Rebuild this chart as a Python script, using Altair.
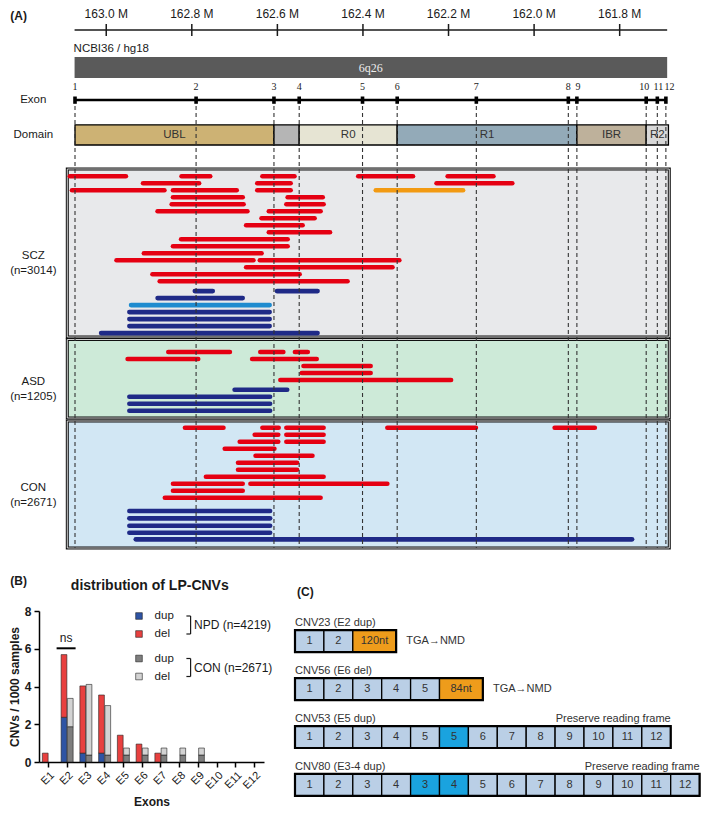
import altair as alt
import pandas as pd

# ======================= DATA =======================
# ---- (A) PARK2 locus, NCBI36/hg18, positions in Mb ----
AXIS_TICKS = [163.0, 162.8, 162.6, 162.4, 162.2, 162.0, 161.8]
VIEW_MB = [163.091, 161.684]
GENE_MB = [163.074, 161.689]
ASSEMBLY = "NCBI36 / hg18"
BAND = "6q26"

EXON_LABELS = ["1", "2", "3", "4", "5", "6", "7", "8", "9", "10", "11", "12"]
EXON_MB = [163.073, 162.790, 162.608, 162.549, 162.401, 162.320,
           162.135, 161.920, 161.900, 161.738, 161.712, 161.692]

DOMAIN_LABELS = ["UBL", "", "R0", "R1", "IBR", "R2"]
DOMAIN_START = [163.073, 162.608, 162.549, 162.320, 161.900, 161.738]
DOMAIN_END = [162.608, 162.549, 162.320, 161.900, 161.738, 161.686]

COHORTS = ["SCZ", "ASD", "CON"]
COHORT_N = [3014, 1205, 2671]

# CNVs: (stack row, type, start Mb, end Mb)
SCZ_CNV = [
    (0, "del", 163.085, 162.954), (0, "del", 162.824, 162.757), (0, "del", 162.635, 162.560),
    (0, "del", 162.411, 162.283), (0, "del", 162.202, 162.095),
    (1, "del", 162.914, 162.783), (1, "del", 162.647, 162.569), (1, "del", 162.228, 162.051),
    (2, "del", 163.080, 162.864), (2, "del", 162.844, 162.695), (2, "del", 162.647, 162.569),
    (2, "del*", 162.370, 162.166),
    (3, "del", 162.844, 162.681), (3, "del", 162.576, 162.494),
    (4, "del", 162.847, 162.679), (4, "del", 162.579, 162.492),
    (5, "del", 162.880, 162.670), (5, "del", 162.620, 162.499),
    (6, "del", 162.637, 162.513),
    (7, "del", 162.673, 162.541),
    (8, "del", 162.620, 162.477),
    (9, "del", 162.825, 162.576),
    (10, "del", 162.844, 162.576),
    (11, "del", 162.912, 162.637),
    (12, "del", 162.976, 162.656), (12, "del", 162.641, 162.315),
    (13, "del", 162.673, 162.331),
    (14, "del", 162.892, 162.548),
    (15, "del", 162.875, 162.436),
    (16.4, "dup", 162.793, 162.751), (16.4, "dup", 162.601, 162.506),
    (17.4, "dup", 162.880, 162.681),
    (18.4, "dup*", 162.942, 162.618),
    (19.4, "dup", 162.946, 162.618),
    (20.4, "dup", 162.946, 162.618),
    (21.4, "dup", 162.946, 162.618),
    (22.4, "dup", 163.012, 162.506),
]
ASD_CNV = [
    (0, "del", 162.855, 162.711), (0, "del", 162.640, 162.586), (0, "del", 162.559, 162.529),
    (1, "del", 162.950, 162.785), (1, "del", 162.659, 162.508),
    (2, "del", 162.539, 162.382),
    (3, "del", 162.543, 162.382),
    (4, "del", 162.593, 162.194),
    (5.4, "dup", 162.700, 162.577),
    (6.4, "dup", 162.946, 162.617),
    (7.4, "dup", 162.946, 162.617),
    (8.4, "dup", 162.946, 162.617),
]
CON_CNV = [
    (0, "del", 162.816, 162.726), (0, "del", 162.635, 162.597), (0, "del", 162.579, 162.492),
    (0, "del", 162.343, 162.136), (0, "del", 161.952, 161.858),
    (1, "del", 162.653, 162.598), (1, "del", 162.579, 162.492),
    (2, "del", 162.688, 162.598), (2, "del", 162.579, 162.492),
    (3, "del", 162.723, 162.607),
    (4, "del", 162.651, 162.518),
    (5, "del", 162.692, 162.554),
    (6, "del", 162.692, 162.554),
    (7, "del", 162.767, 162.492),
    (8, "del", 162.844, 162.681), (8, "del", 162.663, 162.343),
    (9, "del", 162.844, 162.681),
    (10, "del", 162.863, 162.499),
    (11.9, "dup", 162.946, 162.617),
    (12.95, "dup", 162.946, 162.617),
    (14.0, "dup", 162.946, 162.617),
    (15.0, "dup", 162.946, 162.617),
    (15.95, "dup", 162.931, 161.771),
]

# ---- (B) distribution of LP-CNVs (CNVs / 1000 samples) ----
EXON_CATS = ["E1", "E2", "E3", "E4", "E5", "E6", "E7", "E8", "E9", "E10", "E11", "E12"]
NPD_DUP = [0, 2.37, 0.47, 0.47, 0, 0, 0, 0, 0, 0, 0, 0]
NPD_DEL = [0.47, 3.32, 3.56, 3.08, 1.42, 0.95, 0.47, 0, 0, 0, 0, 0]
CON_DUP = [0, 1.87, 0.37, 0.37, 0.37, 0.37, 0.37, 0.37, 0.37, 0, 0, 0]
CON_DEL = [0, 1.50, 3.74, 2.62, 0.37, 0.37, 0.37, 0.37, 0.37, 0, 0, 0]
NPD_LABEL = "NPD (n=4219)"
CON_LABEL = "CON (n=2671)"

# ---- (C) transcript consequences ----
C_TITLES = ["CNV23 (E2 dup)", "CNV56 (E6 del)", "CNV53 (E5 dup)", "CNV80 (E3-4 dup)"]
C_BOXES = [
    ["1", "2", "120nt"],
    ["1", "2", "3", "4", "5", "84nt"],
    ["1", "2", "3", "4", "5", "5", "6", "7", "8", "9", "10", "11", "12"],
    ["1", "2", "3", "4", "3", "4", "5", "6", "7", "8", "9", "10", "11", "12"],
]
C_KINDS = [
    ["exon", "exon", "insert"],
    ["exon", "exon", "exon", "exon", "exon", "insert"],
    ["exon"] * 5 + ["dup"] + ["exon"] * 7,
    ["exon"] * 4 + ["dup", "dup"] + ["exon"] * 8,
]
C_NOTES = ["TGA\u2192NMD", "TGA\u2192NMD", "Preserve reading frame", "Preserve reading frame"]

# ======================= STYLE / LAYOUT =======================
FONT = "Liberation Sans"
SERIF = "Liberation Serif"
INK = "#1a1a1a"
CNV_TYPES = ["del", "dup", "del*", "dup*"]
CNV_COLORS = ["#E50012", "#1F2A87", "#F29A12", "#1E8BCF"]
DOMAIN_COLORS = ["#CDB274", "#B5B5B5", "#E6E4D3", "#93AAB8", "#BEB19B", "#D8D8D8"]
PANEL_Y = {"SCZ": (163, 331), "ASD": (333.5, 412), "CON": (415, 542)}
PANEL_FILL = {"SCZ": "#E8E9EB", "ASD": "#CDEAD8", "CON": "#D2E7F4"}
ROW_BASE = {"SCZ": 170.3, "ASD": 346.0, "CON": 421.7}
ROW_STEP = 7
EXON_LABEL_DX = [0, 0, 0, 0, 0, 0, 0, 0, 1, -2, 1, 3.5]   # px nudges for crowded labels
PX_PER_MB = 428.1
X0 = 28.3            # left gutter inside panel A (room for row labels)
TRACK_W = 602
A_W, A_H = 632, 519

xs = alt.Scale(domain=VIEW_MB, range=[X0, X0 + TRACK_W], nice=False, zero=False)
ys = alt.Scale(domain=[543, 24], nice=False, zero=False)


def AX(f):
    return alt.X(f"{f}:Q", scale=xs, axis=None)


def AY(f):
    return alt.Y(f"{f}:Q", scale=ys, axis=None)


# ---------- panel A ----------
panel_df = pd.DataFrame({
    "x": [VIEW_MB[0]] * 3, "x2": [VIEW_MB[1]] * 3,
    "y": [PANEL_Y[c][0] for c in COHORTS], "y2": [PANEL_Y[c][1] for c in COHORTS],
    "fill": [PANEL_FILL[c] for c in COHORTS],
})
panel_bg = alt.Chart(panel_df).mark_rect(stroke="#111111", strokeWidth=3).encode(
    x=AX("x"), x2="x2", y=AY("y"), y2="y2", fill=alt.Fill("fill:N", scale=None))
panel_line = alt.Chart(panel_df).mark_rect(fillOpacity=0, stroke="white", strokeWidth=0.8).encode(
    x=AX("x"), x2="x2", y=AY("y"), y2="y2")

band_df = pd.DataFrame({"x": [GENE_MB[0]], "x2": [GENE_MB[1]], "y": [51], "y2": [72],
                        "xm": [sum(GENE_MB) / 2], "ym": [61.5], "t": [BAND],
                        "ax": [GENE_MB[0]], "ay": [43], "at": [ASSEMBLY]})
band = alt.Chart(band_df).mark_rect(fill="#5A5A5A").encode(x=AX("x"), x2="x2", y=AY("y"), y2="y2")
band_txt = alt.Chart(band_df).mark_text(font=SERIF, fontSize=12, color="#EDEDED").encode(
    x=AX("xm"), y=AY("ym"), text="t:N")
asm_txt = alt.Chart(band_df).mark_text(fontSize=11.5, align="left", color=INK, dx=-1).encode(
    x=AX("ax"), y=AY("ay"), text="at:N")

axis_df = pd.DataFrame({"x": [GENE_MB[0]], "x2": [GENE_MB[1]], "y": [24]})
axis_line = alt.Chart(axis_df).mark_rule(color=INK, strokeWidth=1.5).encode(x=AX("x"), x2="x2", y=AY("y"))
tick_df = pd.DataFrame({"x": AXIS_TICKS, "y": [18] * 7, "y2": [30] * 7, "ly": [8] * 7,
                        "t": [f"{v:.1f} M" for v in AXIS_TICKS]})
axis_ticks = alt.Chart(tick_df).mark_rule(color=INK, strokeWidth=1.5).encode(x=AX("x"), y=AY("y"), y2="y2")
axis_lbl = alt.Chart(tick_df).mark_text(fontSize=12, color=INK).encode(x=AX("x"), y=AY("ly"), text="t:N")

exon_line_df = pd.DataFrame({"x": [EXON_MB[0]], "x2": [EXON_MB[-1]], "y": [94]})
exon_line = alt.Chart(exon_line_df).mark_rule(color="black", strokeWidth=2.5).encode(
    x=AX("x"), x2="x2", y=AY("y"))
exon_df = pd.DataFrame({"x": EXON_MB, "t": EXON_LABELS, "y": [90.5] * 12, "y2": [97.8] * 12,
                        "ly": [81] * 12, "dy0": [100] * 12, "dy1": [542] * 12})
exon_df["lx"] = [m - d / PX_PER_MB for m, d in zip(EXON_MB, EXON_LABEL_DX)]
exon_mk = alt.Chart(exon_df).mark_rule(color="black", strokeWidth=3.6).encode(x=AX("x"), y=AY("y"), y2="y2")
exon_num = alt.Chart(exon_df).mark_text(font=SERIF, fontSize=10, color=INK).encode(
    x=AX("lx"), y=AY("ly"), text="t:N")
exon_dash = alt.Chart(exon_df).mark_rule(color="#333333", strokeWidth=1.1, strokeDash=[4, 3]).encode(
    x=AX("x"), y=AY("dy0"), y2="dy1")

dom_df = pd.DataFrame({"x": DOMAIN_START, "x2": DOMAIN_END, "t": DOMAIN_LABELS, "fill": DOMAIN_COLORS,
                       "y": [118.8] * 6, "y2": [139] * 6})
dom_df["xm"] = (dom_df["x"] + dom_df["x2"]) / 2
dom_df["ym"] = 129
dom_rect = alt.Chart(dom_df).mark_rect(stroke="black", strokeWidth=1.3).encode(
    x=AX("x"), x2="x2", y=AY("y"), y2="y2", fill=alt.Fill("fill:N", scale=None))
dom_txt = alt.Chart(dom_df).mark_text(fontSize=11.5, color="#333333").encode(
    x=AX("xm"), y=AY("ym"), text="t:N")

cnv_rows = []
for coh, lst in zip(COHORTS, [SCZ_CNV, ASD_CNV, CON_CNV]):
    for row, typ, s, e in lst:
        cnv_rows.append({"cohort": coh, "type": typ, "start": s, "end": e,
                         "y": ROW_BASE[coh] + ROW_STEP * row})
cnv_df = pd.DataFrame(cnv_rows)
cnv = alt.Chart(cnv_df).mark_rule(strokeWidth=4.6, strokeCap="round").encode(
    x=AX("start"), x2="end", y=AY("y"),
    color=alt.Color("type:N", scale=alt.Scale(domain=CNV_TYPES, range=CNV_COLORS), legend=None))

lab_df = pd.DataFrame({
    "t": ["Exon", "Domain"] + [f"{c}\n(n={n})" for c, n in zip(COHORTS, COHORT_N)],
    "y": [94, 128.5] + [(PANEL_Y[c][0] + PANEL_Y[c][1]) / 2 + 3 for c in COHORTS],
})
left_lbl = alt.Chart(lab_df).mark_text(fontSize=11.5, color=INK, lineBreak="\n", lineHeight=15).encode(
    x=alt.value(X0 - 34), y=AY("y"), text="t:N")
tagA = alt.Chart(pd.DataFrame({"t": ["(A)"], "y": [10]})).mark_text(
    fontSize=12, fontWeight="bold", align="left", color=INK).encode(
    x=alt.value(X0 - 57), y=AY("y"), text="t:N")

chartA = alt.layer(panel_bg, panel_line, band, band_txt, asm_txt, axis_line, axis_ticks, axis_lbl,
                   exon_line, exon_mk, exon_num, dom_rect, dom_txt, cnv, exon_dash, left_lbl, tagA
                   ).properties(width=A_W, height=A_H)

# ---------- panel B ----------
B_W, B_H = 225, 151
B_KEYS = ["NPD dup", "NPD del", "CON dup", "CON del"]
B_COLORS = ["#2E54A4", "#E8403F", "#7E7E7E", "#D3D3D3"]
brows = []
for i, e in enumerate(EXON_CATS):
    for grp, dup, dele in (("NPD", NPD_DUP[i], NPD_DEL[i]), ("CON", CON_DUP[i], CON_DEL[i])):
        if dup > 0:
            brows.append({"exon": e, "group": grp, "key": f"{grp} dup", "lo": 0.0, "hi": dup})
        if dele > 0:
            brows.append({"exon": e, "group": grp, "key": f"{grp} del", "lo": dup, "hi": dup + dele})
bdf = pd.DataFrame(brows)

bars = alt.Chart(bdf).mark_bar(stroke="#222222", strokeWidth=0.6).encode(
    x=alt.X("exon:N", sort=EXON_CATS,
            scale=alt.Scale(domain=EXON_CATS, paddingInner=0.36, paddingOuter=0.18),
            axis=alt.Axis(title="Exons", labelAngle=-45, labelFontSize=11, labelColor=INK, labelPadding=2,
                          tickSize=5, tickColor="black", tickWidth=1.5, domainColor="black", domainWidth=1.5,
                          titleFontSize=12, titleFontWeight="bold", titleColor=INK, titlePadding=6,
                          grid=False)),
    xOffset=alt.XOffset("group:N", sort=["NPD", "CON"],
                        scale=alt.Scale(domain=["NPD", "CON"], paddingInner=0.08)),
    y=alt.Y("lo:Q", scale=alt.Scale(domain=[0, 8], nice=False),
            axis=alt.Axis(title="CNVs / 1000 samples", values=[0, 2, 4, 6, 8], labelFontSize=12,
                          labelFontWeight="bold", labelColor=INK, labelPadding=3, tickSize=5,
                          tickColor="black", tickWidth=1.5, domainColor="black", domainWidth=1.5,
                          titleFontSize=12, titleFontWeight="bold", titleColor=INK, titlePadding=3,
                          grid=False)),
    y2="hi:Q",
    fill=alt.Fill("key:N", scale=alt.Scale(domain=B_KEYS, range=B_COLORS), legend=None),
)


def ann_text(text, px, py, **kw):
    return alt.Chart(pd.DataFrame({"t": [text]})).mark_text(**kw).encode(
        x=alt.value(px), y=alt.value(py), text="t:N")


def ann_rule(x1, y1, x2, y2, **kw):
    return alt.Chart(pd.DataFrame({"a": [0]})).mark_rule(**kw).encode(
        x=alt.value(x1), x2=alt.value(x2), y=alt.value(y1), y2=alt.value(y2))


def ann_square(px, py, color):
    return alt.Chart(pd.DataFrame({"a": [0]})).mark_square(
        size=44, filled=True, fill=color, stroke="#222222", strokeWidth=0.6, opacity=1).encode(
        x=alt.value(px), y=alt.value(py))


b_layers = [bars,
            ann_text("distribution of LP-CNVs", 110.8, -24.7, fontSize=14, fontWeight="bold", color=INK),
            ann_text("(B)", -28.7, -29.7, fontSize=12, fontWeight="bold", align="left", color=INK),
            ann_rule(17.6, 37.3, 36.6, 37.3, color="black", strokeWidth=2),
            ann_text("ns", 27.1, 27, fontSize=12, color=INK)]
LEG_Y = [5, 23, 47.5, 65.5]
for k, (key, col) in enumerate(zip(B_KEYS, B_COLORS)):
    b_layers.append(ann_square(100, LEG_Y[k], col))
    b_layers.append(ann_text(key.split(" ")[1], 115.6, LEG_Y[k], fontSize=11.5, align="left", color=INK))
for g, (ya, yb) in enumerate([(LEG_Y[0], LEG_Y[1]), (LEG_Y[2], LEG_Y[3])]):
    b_layers.append(ann_rule(151.6, ya, 151.6, yb, color=INK, strokeWidth=1.2))
    b_layers.append(ann_rule(147.4, ya, 151.6, ya, color=INK, strokeWidth=1.2))
    b_layers.append(ann_rule(147.4, yb, 151.6, yb, color=INK, strokeWidth=1.2))
    b_layers.append(ann_text([NPD_LABEL, CON_LABEL][g], 155, (ya + yb) / 2, fontSize=12,
                             align="left", color=INK))
chartB = alt.layer(*b_layers).properties(width=B_W, height=B_H)

# ---------- panel C ----------
C_UNIT = 28.9
C_W, C_H = 14 * C_UNIT, 185
BOX_H = 0.458
INSERT_W = 1.5
cxs = alt.Scale(domain=[0, 14], nice=False, zero=False)
cys = alt.Scale(domain=[3.46, -0.4], nice=False, zero=False)
C_FILL = {"exon": "#BACFE6", "dup": "#1AA3DF", "insert": "#EE9C1B"}

box_rows, row_rows = [], []
for r, (labels, kinds) in enumerate(zip(C_BOXES, C_KINDS)):
    x = 0.0
    for lab, kd in zip(labels, kinds):
        w = INSERT_W if kd == "insert" else 1.0
        box_rows.append({"x0": x, "x1": x + w, "xc": x + w / 2, "y0": r, "y1": r + BOX_H,
                         "yc": r + BOX_H / 2, "t": lab, "fill": C_FILL[kd]})
        x += w
    row_rows.append({"x0": 0.0, "x1": x, "y0": r, "y1": r + BOX_H, "yc": r + BOX_H / 2,
                     "ly": r - 0.15, "title": C_TITLES[r], "note": C_NOTES[r],
                     "nx": x + 0.35, "right": "Preserve" in C_NOTES[r]})
cbox = pd.DataFrame(box_rows)
crow = pd.DataFrame(row_rows)


def CX(f):
    return alt.X(f"{f}:Q", scale=cxs, axis=None)


def CY(f):
    return alt.Y(f"{f}:Q", scale=cys, axis=None)


c_boxes = alt.Chart(cbox).mark_rect(stroke="black", strokeWidth=1.3).encode(
    x=CX("x0"), x2="x1", y=CY("y0"), y2="y1", fill=alt.Fill("fill:N", scale=None))
c_outline = alt.Chart(crow).mark_rect(fillOpacity=0, stroke="black", strokeWidth=2.2).encode(
    x=CX("x0"), x2="x1", y=CY("y0"), y2="y1")
c_boxtxt = alt.Chart(cbox).mark_text(fontSize=11, color="#333333").encode(
    x=CX("xc"), y=CY("yc"), text="t:N")
c_title = alt.Chart(crow).mark_text(fontSize=11, color="#333333", align="left").encode(
    x=CX("x0"), y=CY("ly"), text="title:N")
c_note_l = alt.Chart(crow[~crow["right"]]).mark_text(fontSize=11, color="#333333", align="left").encode(
    x=CX("nx"), y=CY("yc"), text="note:N")
c_note_r = alt.Chart(crow[crow["right"]]).mark_text(fontSize=11, color="#333333", align="right").encode(
    x=CX("x1"), y=CY("ly"), text="note:N")
tagC = ann_text("(C)", 2, -18.8, fontSize=12, fontWeight="bold", align="left", color=INK)

chartC = alt.layer(c_boxes, c_outline, c_boxtxt, c_title, c_note_l, c_note_r, tagC
                   ).properties(width=C_W, height=C_H)

chart = alt.vconcat(
    chartA,
    alt.hconcat(chartB, chartC, spacing=20),
    spacing=25,
).properties(padding=0).configure(font=FONT).configure_view(stroke=None)

chart.save("out.html", embed_options={"renderer": "svg", "actions": False})
